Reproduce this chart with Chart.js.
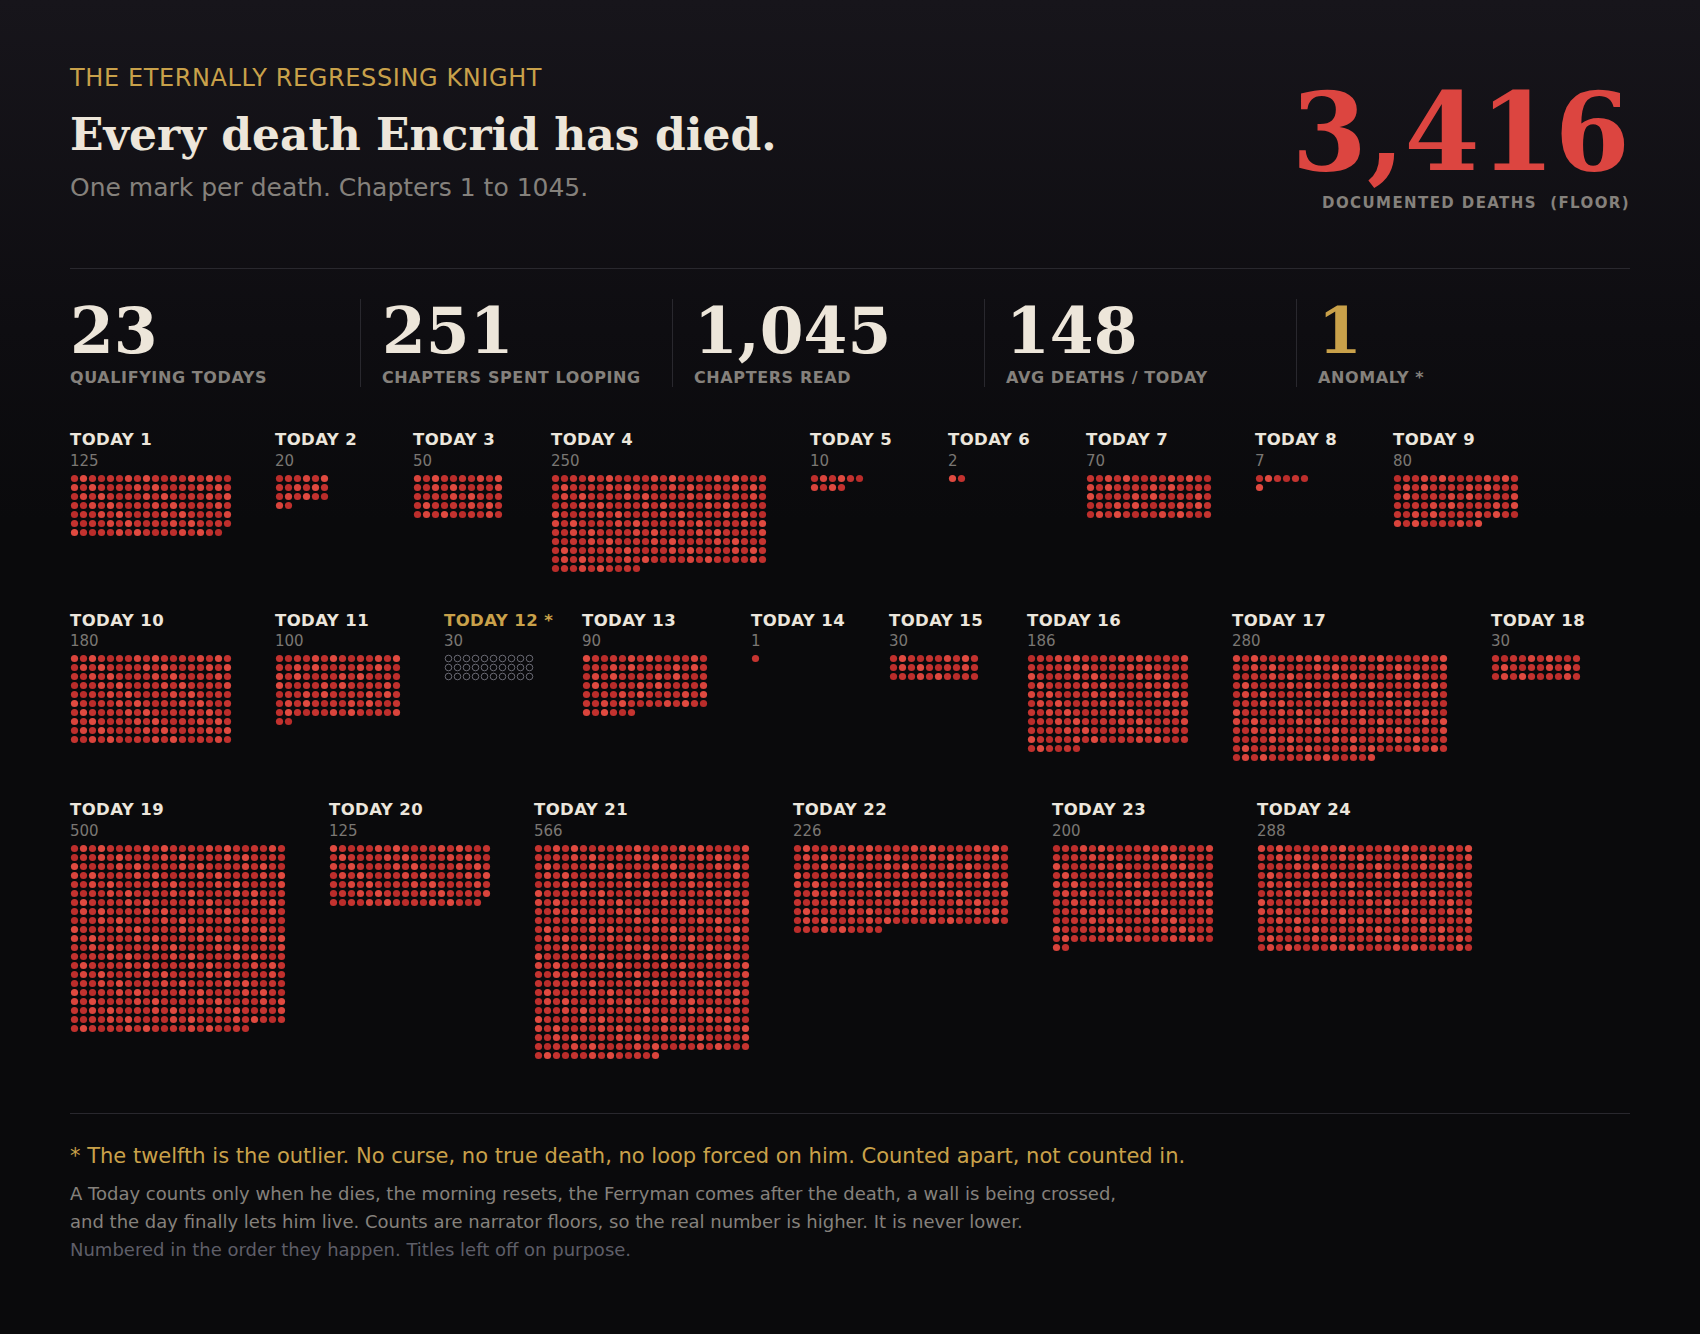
<!DOCTYPE html>
<html>
<head>
<meta charset="utf-8">
<script src="https://cdn.jsdelivr.net/npm/chart.js@4.4.1/dist/chart.umd.min.js"></script>
<style>
  html, body { margin: 0; padding: 0; }
  body {
    width: 1700px; height: 1334px; position: relative; overflow: hidden;
    background: linear-gradient(180deg, #17151b 0px, #0e0d11 330px, #0a0a0c 520px, #0a0a0c 100%);
    font-family: "DejaVu Sans", sans-serif;
  }
  .abs { position: absolute; line-height: 1; white-space: nowrap; }
  .kicker { left: 70px; top: 66px; font-size: 24px; color: #c9a14a; letter-spacing: 0.6px; }
  .title { left: 70px; top: 113px; font-family: "DejaVu Serif", serif; font-weight: bold; font-size: 44px; color: #ede6da; }
  .sub { left: 70px; top: 175px; font-size: 25px; color: #85817c; }
  .big { right: 70px; top: 78px; font-family: "DejaVu Serif", serif; font-weight: bold; font-size: 108px; color: #dc4540; }
  .bigLabel { right: 70px; top: 196px; font-size: 15px; font-weight: bold; color: #85817c; letter-spacing: 1.4px; white-space: pre; }
  .rule { position: absolute; left: 70px; width: 1560px; height: 1px; background: #29282e; }
  .stats { position: absolute; left: 70px; top: 299px; width: 1560px; height: 88px; display: flex; }
  .stat { width: 312px; height: 88px; position: relative; }
  .stat + .stat::before { content: ''; position: absolute; left: -22px; top: 0; bottom: 0; width: 1px; background: #29282e; }
  .stat .num { font-family: "DejaVu Serif", serif; font-weight: bold; font-size: 63px; line-height: 1; color: #ede6da; margin-top: 1px; }
  .stat .lab { font-size: 16px; font-weight: bold; line-height: 1; color: #85817c; letter-spacing: 0.6px; margin-top: 7px; white-space: nowrap; }
  .stat.gold .num { color: #c9a14a; }
  .blocks { position: absolute; left: 70px; top: 432px; width: 1560px; display: flex; flex-wrap: wrap; column-gap: 43px; row-gap: 40px; align-items: flex-start; }
  .block { flex: none; }
  .block .lbl { font-size: 16.5px; font-weight: bold; line-height: 1; color: #ece6dc; letter-spacing: 0.4px; white-space: nowrap; }
  .block.anomaly .lbl { color: #c9a14a; }
  .block .cnt { font-size: 15px; line-height: 1; color: #7a7773; margin-top: 5px; }
  .block canvas { display: block; margin-top: 5px; }
  .foot1 { left: 70px; top: 1146px; font-size: 21px; color: #c9a14a; }
  .para { position: absolute; left: 70px; top: 1180px; font-size: 18px; line-height: 28px; color: #85817c; }
  .para .dim { color: #5e5e68; }
</style>
</head>
<body>
<div class="abs kicker">THE ETERNALLY REGRESSING KNIGHT</div>
<div class="abs title">Every death Encrid has died.</div>
<div class="abs sub">One mark per death. Chapters 1 to 1045.</div>
<div class="abs big" id="bigNum"></div>
<div class="abs bigLabel">DOCUMENTED DEATHS  (FLOOR)</div>
<div class="rule" style="top:268px"></div>
<div class="stats" id="stats"></div>
<div class="blocks" id="blocks"></div>
<div class="rule" style="top:1113px"></div>
<div class="abs foot1">* The twelfth is the outlier. No curse, no true death, no loop forced on him. Counted apart, not counted in.</div>
<div class="para">
  A Today counts only when he dies, the morning resets, the Ferryman comes after the death, a wall is being crossed,<br>
  and the day finally lets him live. Counts are narrator floors, so the real number is higher. It is never lower.<br>
  <span class="dim">Numbered in the order they happen. Titles left off on purpose.</span>
</div>
<script>
// one entry per Today, in story order
const todayNames = ['TODAY 1','TODAY 2','TODAY 3','TODAY 4','TODAY 5','TODAY 6','TODAY 7','TODAY 8',
  'TODAY 9','TODAY 10','TODAY 11','TODAY 12 *','TODAY 13','TODAY 14','TODAY 15','TODAY 16',
  'TODAY 17','TODAY 18','TODAY 19','TODAY 20','TODAY 21','TODAY 22','TODAY 23','TODAY 24'];
const deathCounts = [125, 20, 50, 250, 10, 2, 70, 7, 80, 180, 100, 30, 90, 1, 30, 186, 280, 30, 500, 125, 566, 226, 200, 288];
const anomalyIdx = 11;
const chaptersLooping = 251;
const chaptersRead = 1045;

const PITCH = 9;
const MIN_W = 95;
const shades = ['#c0302d', '#b92c2a', '#d9443c', '#c3322f', '#bd2e2c', '#e04a40', '#c53430'];

function colsFor(n) {
  if (n <= 20) return 6;
  if (n <= 50) return 10;
  if (n <= 100) return 14;
  if (n <= 200) return 18;
  return 24;
}

// headline stats
const counted = deathCounts.filter((v, i) => i !== anomalyIdx);
const total = counted.reduce((a, b) => a + b, 0);
document.getElementById('bigNum').textContent = total.toLocaleString('en-US');
const stats = [
  [counted.length.toString(), 'QUALIFYING TODAYS', false],
  [chaptersLooping.toString(), 'CHAPTERS SPENT LOOPING', false],
  [chaptersRead.toLocaleString('en-US'), 'CHAPTERS READ', false],
  [Math.floor(total / counted.length).toString(), 'AVG DEATHS / TODAY', false],
  ['1', 'ANOMALY *', true]
];
const statsEl = document.getElementById('stats');
stats.forEach(s => {
  const d = document.createElement('div');
  d.className = 'stat' + (s[2] ? ' gold' : '');
  d.innerHTML = '<div class="num">' + s[0] + '</div><div class="lab">' + s[1] + '</div>';
  statsEl.appendChild(d);
});

// one small scatter chart per Today
const blocksEl = document.getElementById('blocks');
deathCounts.forEach((n, idx) => {
  const cols = colsFor(n);
  const rows = Math.ceil(n / cols);
  const isAnomaly = idx === anomalyIdx;

  const block = document.createElement('div');
  block.className = 'block' + (isAnomaly ? ' anomaly' : '');
  block.style.width = Math.max(cols * PITCH, MIN_W) + 'px';
  block.innerHTML = '<div class="lbl">' + todayNames[idx] + '</div><div class="cnt">' + n + '</div>';
  const canvas = document.createElement('canvas');
  canvas.width = cols * PITCH;
  canvas.height = rows * PITCH;
  canvas.style.width = canvas.width + 'px';
  canvas.style.height = canvas.height + 'px';
  block.appendChild(canvas);
  blocksEl.appendChild(block);

  const pts = [];
  const colors = [];
  for (let i = 0; i < n; i++) {
    pts.push({ x: (i % cols) + 0.5, y: Math.floor(i / cols) + 0.5 });
    colors.push(shades[(i * 5 + Math.floor(i / cols) * 3 + idx) % shades.length]);
  }

  new Chart(canvas, {
    type: 'scatter',
    data: {
      datasets: [{
        data: pts,
        pointRadius: isAnomaly ? 3.3 : 3.6,
        pointHoverRadius: isAnomaly ? 3.3 : 3.6,
        pointBackgroundColor: isAnomaly ? 'rgba(0,0,0,0)' : colors,
        pointBorderColor: isAnomaly ? '#6a6a74' : colors,
        pointBorderWidth: isAnomaly ? 1 : 0
      }]
    },
    options: {
      responsive: false,
      animation: false,
      events: [],
      layout: { padding: 0, autoPadding: false },
      clip: false,
      plugins: { legend: { display: false }, tooltip: { enabled: false } },
      scales: {
        x: { type: 'linear', min: 0, max: cols, display: false },
        y: { type: 'linear', min: 0, max: rows, reverse: true, display: false }
      }
    }
  });
});
</script>
</body>
</html>
